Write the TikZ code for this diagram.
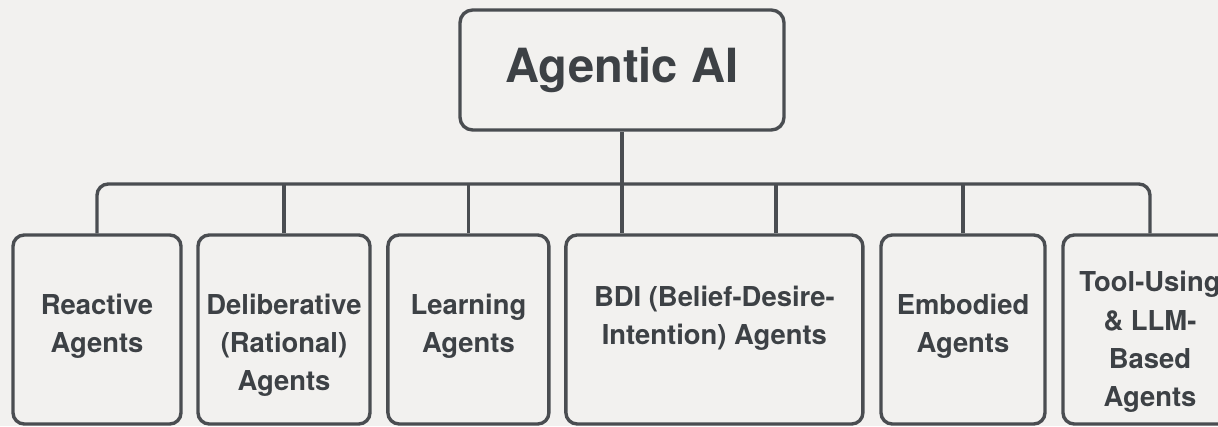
\documentclass[tikz,border=0pt]{standalone}
\usepackage{fontspec}
\setmainfont{TeX Gyre Heros}
\usetikzlibrary{
    calc,
    positioning
}
\definecolor{ink}{HTML}{3D4145}
\definecolor{wire}{HTML}{4A4D51}
\definecolor{paper}{HTML}{F2F1EF}
\tikzset{
    every picture/.style = {
        line width = 2.4pt
    },
    root/.style = {
        draw = wire,
        rounded corners = 9pt,
        minimum width = 8.1cm,
        minimum height = 3cm,
        text = ink,
        font = \bfseries\fontsize{33.5}{40}\selectfont
    },
    card/.style = {
        draw = wire,
        rounded corners = 8pt,
        minimum height = 4.725cm,
        inner sep = 0pt
    },
    cardtext/.style = {
        text = ink,
        align = center,
        inner sep = 0pt,
        font = \bfseries\fontsize{19.5}{27.2}\selectfont
    },
    link/.style = {
        draw = wire,
        rounded corners = 8pt
    }
}

\begin{document}
\begin{tikzpicture}
    \useasboundingbox[fill = paper] (0, 0) rectangle (30.45, 10.65);

    \node[root] (ai) at (15.55, 8.9) {Agentic AI};

    % agent families
    \node[card, minimum width = 4.2cm]   (reactive) at (2.425, 2.4125) {};
    \node[card, minimum width = 4.3cm]   (delib)    at (7.1, 2.4125) {};
    \node[card, minimum width = 4.025cm] (learn)    at (11.71, 2.4125) {};
    \node[card, minimum width = 7.425cm] (bdi)      at (17.86, 2.4125) {};
    \node[card, minimum width = 4.1cm]   (embod)    at (24.075, 2.4125) {};
    \node[card, minimum width = 4.35cm]  (tool)     at (28.75, 2.4125) {};

    \node[cardtext] (t-reactive) at ([yshift = -2.33cm]reactive.north) {Reactive\\Agents};
    \node[cardtext] (t-delib)    at ([yshift = -2.8cm]delib.north) {Deliberative\\(Rational)\\Agents};
    \node[cardtext] (t-learn)    at ([yshift = -2.33cm]learn.north) {Learning\\Agents};
    \node[cardtext] (t-bdi)      at ([yshift = -2.12cm]bdi.north) {BDI (Belief-Desire-\\Intention) Agents};
    \node[cardtext] (t-embod)    at ([yshift = -2.33cm]embod.north) {Embodied\\Agents};
    \node[cardtext] (t-tool)     at ([yshift = -2.72cm]tool.north) {Tool-Using\\\& LLM-\\Based\\Agents};

    % tree wiring
    \coordinate (hub) at (ai.south |- 0, 6.05);
    \coordinate (bdi-r) at ([xshift = 1.54cm]bdi.north);
    \path[link] (reactive.north) |- (hub) -| (tool.north);
    \path[link] (ai.south) -- (ai.south |- bdi.north);
    \foreach \b in {delib, learn, embod}
        \path[link] (\b.north) -- (\b.north |- hub);
    \path[link] (bdi-r) -- (bdi-r |- hub);
\end{tikzpicture}
\end{document}
